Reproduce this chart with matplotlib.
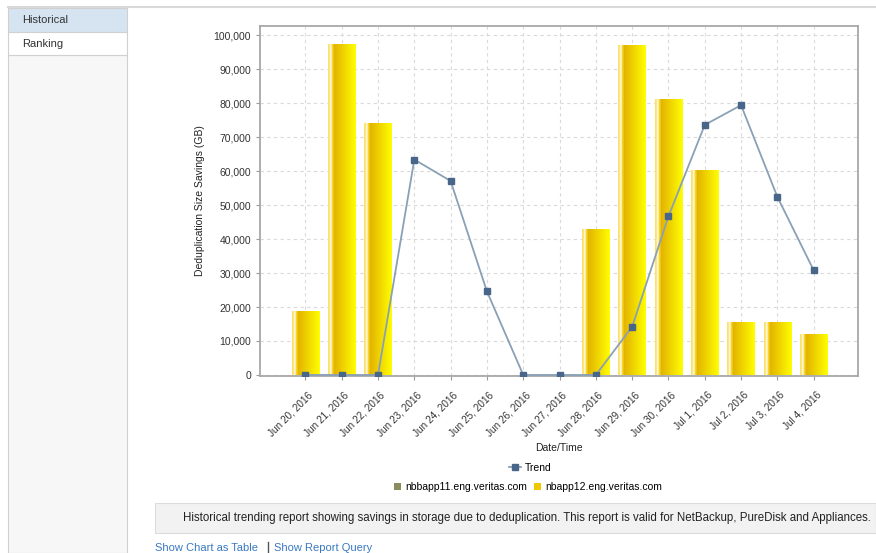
import numpy as np
import matplotlib
matplotlib.use("Agg")
import matplotlib.pyplot as plt
from matplotlib.patches import Rectangle
from matplotlib.lines import Line2D
from matplotlib.ticker import FuncFormatter
import matplotlib.transforms as mtransforms

plt.rcParams['font.family'] = ['Liberation Sans', 'DejaVu Sans']

dates = ["Jun 20, 2016", "Jun 21, 2016", "Jun 22, 2016", "Jun 23, 2016", "Jun 24, 2016",
         "Jun 25, 2016", "Jun 26, 2016", "Jun 27, 2016", "Jun 28, 2016", "Jun 29, 2016",
         "Jun 30, 2016", "Jul 1, 2016", "Jul 2, 2016", "Jul 3, 2016", "Jul 4, 2016"]
nbbapp11 = [0, 0, 0, 0, 0, 0, 0, 0, 0, 0, 0, 0, 0, 0, 0]
nbapp12 = [18800, 97500, 74200, 0, 0, 0, 0, 0, 42900, 97000, 81200, 60300, 15700, 15500, 12000]
trend = [0, 0, 0, 63400, 57100, 24600, 0, 0, 0, 14200, 46700, 73600, 79400, 52400, 30800]

W, H = 876, 553
fig = plt.figure(figsize=(W / 100, H / 100), dpi=100)


def fx(x):
    return x / W


def fy(y):
    return 1 - y / H


# page chrome: sidebar, top rule
fig.patches.append(Rectangle((fx(8), 0), fx(119), fy(55), transform=fig.transFigure,
                             facecolor="#f7f7f7", edgecolor="#d0d0d0", lw=0.8))
fig.patches.append(Rectangle((fx(8), fy(32)), fx(119), 24 / H, transform=fig.transFigure,
                             facecolor="#d6e4f2", edgecolor="#d0d0d0", lw=0.8))
fig.patches.append(Rectangle((fx(8), fy(55)), fx(119), 23 / H, transform=fig.transFigure,
                             facecolor="white", edgecolor="#d0d0d0", lw=0.8))
fig.lines.append(Line2D([fx(8), 1], [fy(7), fy(7)], transform=fig.transFigure,
                        color="#d8d8d8", lw=1.5))
fig.text(fx(22), fy(20), "Historical", fontsize=8, color="#333333", va="center")
fig.text(fx(22), fy(44), "Ranking", fontsize=8, color="#333333", va="center")

# bottom description box
fig.patches.append(Rectangle((fx(155), fy(533)), 1 - fx(155), 30 / H, transform=fig.transFigure,
                             facecolor="#f2f2f2", edgecolor="#dcdcdc", lw=0.8))
fig.text(fx(183), fy(518), "Historical trending report showing savings in storage due to deduplication. "
         "This report is valid for NetBackup, PureDisk and Appliances.",
         fontsize=8.3, color="#222222", va="center")
fig.text(fx(155), fy(548), "Show Chart as Table", fontsize=8, color="#3a78c0", va="center")
fig.lines.append(Line2D([fx(268), fx(268)], [fy(542), fy(553)], transform=fig.transFigure,
                        color="#555555", lw=1))
fig.text(fx(274), fy(548), "Show Report Query", fontsize=8, color="#3a78c0", va="center")

# main chart
ax = fig.add_axes([fx(260), fy(376), fx(858) - fx(260), (376 - 26) / H])
x = np.arange(len(dates))

ax.bar(x, nbbapp11, width=0.76, color="#8a8c5e", zorder=2)
bars = ax.bar(x, nbapp12, width=0.76, color="#f0c800", zorder=2)

# JFreeChart-like gradient on the bars
cols = []
for f in np.linspace(0, 1, 120):
    if f < 0.06:
        c = (250, 226, 110)
    elif f < 0.13:
        c = (255, 248, 215)
    elif f < 0.2:
        c = (246, 212, 40)
    else:
        t = (f - 0.2) / 0.8
        c = (226 + 29 * t, 178 + 76 * t, 0)
    cols.append(c)
grad = np.array(cols)[np.newaxis, :, :] / 255.0
for p in bars:
    if p.get_height() <= 0:
        continue
    im = ax.imshow(grad, extent=[p.get_x(), p.get_x() + p.get_width(), 0, p.get_height()],
                   aspect="auto", interpolation="bilinear", zorder=2.1)
    im.set_clip_path(p)

ax.plot(x, trend, color="#8aa0b6", lw=1.3, marker="s", markersize=5,
        markerfacecolor="#48658a", markeredgecolor="#48658a", zorder=4, label="Trend")

ax.set_xlim(-1.25, 15.22)
ax.set_ylim(-300, 102700)
ax.set_yticks(np.arange(0, 100001, 10000))
ax.yaxis.set_major_formatter(FuncFormatter(lambda v, p: f"{int(v):,}"))
ax.set_xticks(x)
ax.set_xticklabels(dates, rotation=45, ha="right", va="top")
ax.tick_params(axis="both", labelsize=7.5, labelcolor="#333333", color="#999999", length=3)
ax.tick_params(axis="x", labelsize=7.2, pad=7)
# tick_params resets label transforms, so shift them afterwards
offset = mtransforms.ScaledTranslation(9 / 100, 0, fig.dpi_scale_trans)
for lbl in ax.get_xticklabels():
    lbl.set_transform(lbl.get_transform() + offset)
ax.grid(True, color="#dadada", linestyle=(0, (3, 3)), lw=0.8, zorder=0)
ax.set_axisbelow(True)
for s in ax.spines.values():
    s.set_color("#a8a8a8")
    s.set_linewidth(1.3)

ax.set_ylabel("Deduplication Size Savings (GB)", fontsize=7.5, color="#222222", labelpad=6)
fig.text(fx(559), fy(448), "Date/Time", fontsize=7.5, color="#222222", ha="center", va="center")

# legends
h_trend = [Line2D([], [], color="#8aa0b6", lw=1.3, marker="s", markersize=5,
                  markerfacecolor="#48658a", markeredgecolor="#48658a")]
leg1 = fig.legend(h_trend, ["Trend"], loc="center", bbox_to_anchor=(fx(530), fy(468)),
                  frameon=False, fontsize=7.5, handlelength=1.2, handletextpad=0.3)
h_srv = [Rectangle((0, 0), 1, 1, facecolor="#8a8c5e"), Rectangle((0, 0), 1, 1, facecolor="#f0c800")]
leg2 = fig.legend(h_srv, ["nbbapp11.eng.veritas.com", "nbapp12.eng.veritas.com"], loc="center",
                  bbox_to_anchor=(fx(528), fy(487)), ncol=2, frameon=False, fontsize=7.5,
                  handlelength=0.7, handleheight=0.7, handletextpad=0.4, columnspacing=0.6)

fig.savefig("out.png", dpi=100)
